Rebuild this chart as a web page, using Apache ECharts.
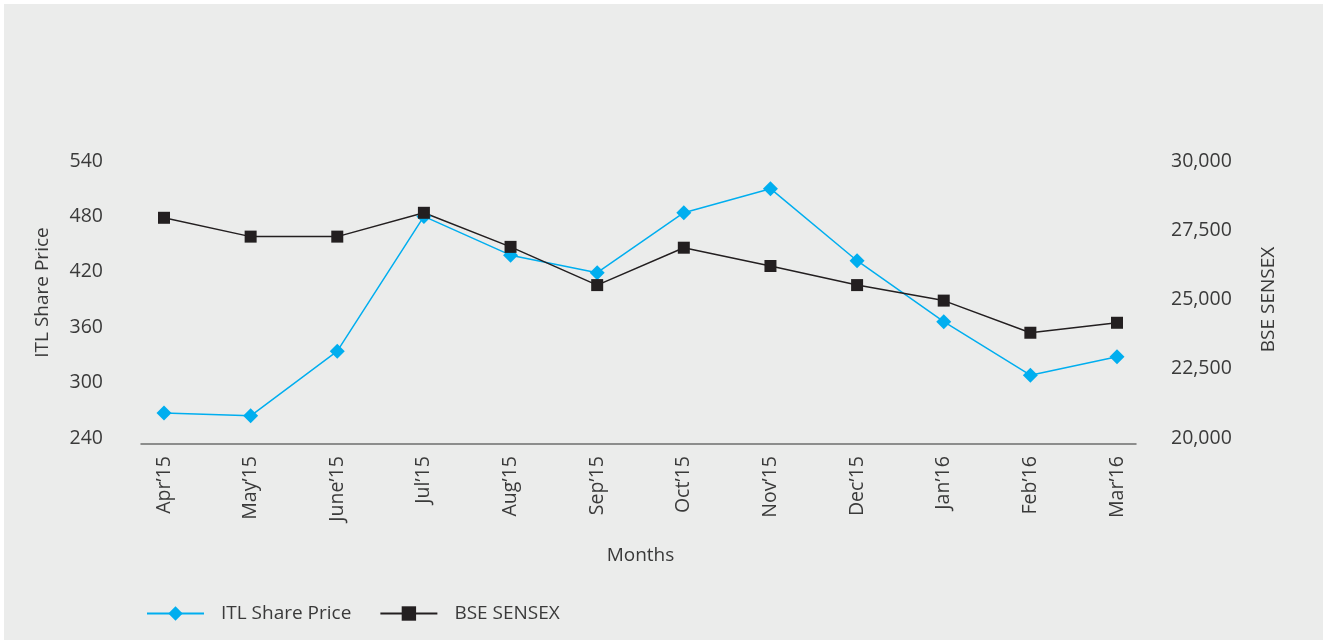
<!DOCTYPE html>
<html>
<head>
<meta charset="utf-8">
<script src="https://cdn.jsdelivr.net/npm/echarts@6/dist/echarts.min.js"></script>
<style>
  html, body { margin: 0; padding: 0; background: #ffffff; }
  #chart { position: absolute; left: 4px; top: 4px; width: 1319px; height: 636px; background: #EBECEB; }
</style>
</head>
<body>
<div id="chart"></div>
<script>
const months = ["Apr\u201915", "May\u201915", "June\u201915", "Jul\u201915", "Aug\u201915", "Sep\u201915",
                "Oct\u201915", "Nov\u201915", "Dec\u201915", "Jan\u201916", "Feb\u201916", "Mar\u201916"];
const itlSharePrice = [267, 264, 334, 480, 438, 419, 484, 510, 432, 366, 308, 328];
const bseSensex = [27950, 27270, 27270, 28130, 26900, 25520, 26870, 26210, 25520, 24960, 23800, 24160];
const leftTicks = { min: 240, max: 540, interval: 60 };
const rightTicks = { min: 20000, max: 30000, interval: 2500 };

const FONT = "'Open Sans', 'Noto Sans', sans-serif";
const TXT = '#3a3a3a';
const chart = echarts.init(document.getElementById('chart'));
chart.setOption({
  backgroundColor: '#EBECEB',
  animation: false,
  textStyle: { fontFamily: FONT, color: TXT },
  grid: [
    { left: 160, right: 206, top: 157, bottom: 202 },
    { left: 137, right: 187, top: 157, bottom: 196 }
  ],
  legend: {
    left: 137, top: 595,
    itemWidth: 57, itemHeight: 18, itemGap: 28,
    textStyle: { fontFamily: FONT, fontSize: 19, color: TXT, padding: [0, 0, 0, 12] },
    data: ['ITL Share Price', 'BSE SENSEX']
  },
  xAxis: [
    {
      type: 'category', gridIndex: 0, data: months, boundaryGap: false,
      axisLine: { show: false }, axisTick: { show: false },
      axisLabel: { rotate: 90, margin: 18, fontSize: 19.5, color: TXT, fontFamily: FONT },
      name: 'Months', nameLocation: 'middle', nameGap: 108,
      nameTextStyle: { fontSize: 19, color: TXT, fontFamily: FONT }
    },
    {
      type: 'value', gridIndex: 1, min: 0, max: 1,
      axisLine: { show: true, lineStyle: { color: '#6e6e6e', width: 1.5 } },
      axisTick: { show: false }, axisLabel: { show: false }, splitLine: { show: false }
    }
  ],
  yAxis: [
    {
      type: 'value', gridIndex: 0, position: 'left',
      min: leftTicks.min, max: leftTicks.max, interval: leftTicks.interval,
      axisLine: { show: false }, axisTick: { show: false }, splitLine: { show: false },
      axisLabel: { margin: 61, fontSize: 19.5, color: TXT, fontFamily: FONT },
      name: 'ITL Share Price', nameLocation: 'middle', nameGap: 112, nameRotate: 90,
      nameTextStyle: { fontSize: 19, color: TXT, fontFamily: FONT, padding: [0, 0, 0, 14] }
    },
    {
      type: 'value', gridIndex: 0, position: 'right',
      min: rightTicks.min, max: rightTicks.max, interval: rightTicks.interval,
      axisLine: { show: false }, axisTick: { show: false }, splitLine: { show: false },
      axisLabel: { margin: 54, fontSize: 19.5, color: TXT, fontFamily: FONT,
        formatter: v => v.toLocaleString('en-US') },
      name: 'BSE SENSEX', nameLocation: 'middle', nameGap: 142, nameRotate: 90,
      nameTextStyle: { fontSize: 19, color: TXT, fontFamily: FONT }
    },
    { type: 'value', gridIndex: 1, show: false }
  ],
  series: [
    {
      name: 'ITL Share Price', type: 'line', xAxisIndex: 0, yAxisIndex: 0,
      data: itlSharePrice, symbol: 'diamond', symbolSize: 15,
      itemStyle: { color: '#00AEEF' }, lineStyle: { color: '#00AEEF', width: 1.5 }
    },
    {
      name: 'BSE SENSEX', type: 'line', xAxisIndex: 0, yAxisIndex: 1,
      data: bseSensex, symbol: 'rect', symbolSize: 12,
      itemStyle: { color: '#231F20' }, lineStyle: { color: '#231F20', width: 1.5 }
    }
  ]
});
</script>
</body>
</html>
